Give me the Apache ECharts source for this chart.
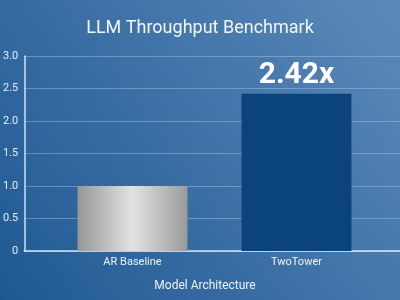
<!DOCTYPE html>
<html>
<head>
<meta charset="utf-8">
<script src="https://cdn.jsdelivr.net/npm/echarts@6/dist/echarts.min.js"></script>
<style>
    html, body { margin: 0; padding: 0; }
    #chart { width: 400px; height: 300px; }
</style>
</head>
<body>
<div id="chart"></div>
<script>
const categories = ['AR Baseline', 'TwoTower'];
const throughput = [1.0, 2.42];
const speedupLabels = ['', '2.42x'];

const chart = echarts.init(document.getElementById('chart'));

const silver = new echarts.graphic.LinearGradient(0, 0, 1, 0, [
    { offset: 0, color: '#979797' },
    { offset: 0.5, color: '#e2e2e2' },
    { offset: 1, color: '#9a9a9a' }
]);

chart.setOption({
    backgroundColor: new echarts.graphic.LinearGradient(0, 1, 1, 0, [
        { offset: 0, color: '#1f5993' },
        { offset: 1, color: '#5c89b9' }
    ]),
    title: {
        text: 'LLM Throughput Benchmark',
        left: 'center',
        top: 14,
        textStyle: {
            color: '#f2f5fa',
            fontSize: 18,
            fontWeight: 'normal',
            fontFamily: 'Roboto'
        }
    },
    grid: [
        // background grid: y axis, split lines, base line
        { left: 21, right: 0, top: 56, bottom: 49 },
        // bar grid
        { left: 50.5, right: 21.5, top: 56, bottom: 49 }
    ],
    xAxis: [
        {
            gridIndex: 0,
            type: 'value',
            min: 0,
            max: 1,
            axisLine: { show: true, lineStyle: { color: 'rgba(225,238,255,0.9)', width: 1.5 } },
            axisTick: { show: false },
            axisLabel: { show: false },
            splitLine: { show: false }
        },
        {
            gridIndex: 1,
            type: 'category',
            data: categories,
            axisLine: { show: false },
            axisTick: { show: false },
            axisLabel: {
                color: '#eef3f9',
                fontSize: 11,
                margin: 6,
                fontFamily: 'Roboto'
            },
            name: 'Model Architecture',
            nameLocation: 'middle',
            nameGap: 29,
            nameTextStyle: {
                color: '#eef3f9',
                fontSize: 12,
                fontFamily: 'Roboto',
                padding: [0, 19, 0, 0]
            }
        }
    ],
    yAxis: [
        {
            gridIndex: 0,
            type: 'value',
            min: 0,
            max: 3,
            interval: 0.5,
            axisLine: { show: true, lineStyle: { color: 'rgba(225,238,255,0.9)', width: 1.5 } },
            axisTick: { show: false },
            axisLabel: {
                color: '#e6edf5',
                fontSize: 11,
                margin: 6,
                fontFamily: 'Roboto',
                formatter: v => (v === 0 ? '0' : v.toFixed(1))
            },
            splitLine: { lineStyle: { color: 'rgba(200,220,245,0.35)', width: 1 } }
        },
        {
            gridIndex: 1,
            type: 'value',
            min: 0,
            max: 3,
            interval: 0.5,
            show: false
        }
    ],
    series: [
        {
            type: 'bar',
            xAxisIndex: 1,
            yAxisIndex: 1,
            barWidth: '67%',
            data: throughput.map((v, i) => ({
                value: v,
                itemStyle: { color: i === 0 ? silver : '#0b437d' }
            })),
            label: {
                show: true,
                position: 'top',
                distance: 3,
                color: '#ffffff',
                fontSize: 30,
                fontWeight: 'bold',
                fontFamily: 'Roboto',
                formatter: p => speedupLabels[p.dataIndex]
            }
        }
    ]
});
</script>
</body>
</html>
